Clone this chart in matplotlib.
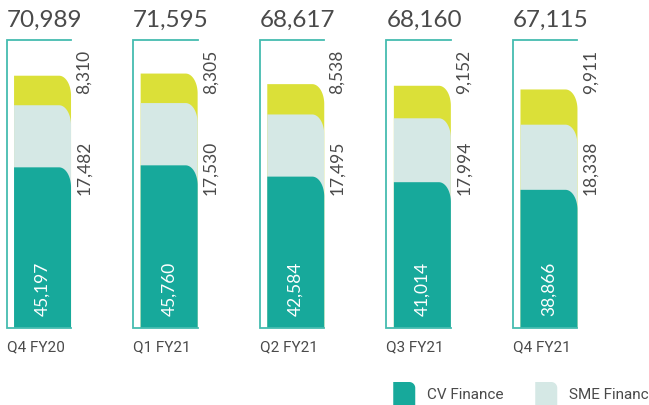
import matplotlib
matplotlib.use('Agg')
import matplotlib.pyplot as plt
import numpy as np

quarters = ['Q4 FY20', 'Q1 FY21', 'Q2 FY21', 'Q3 FY21', 'Q4 FY21']
cv = [45197, 45760, 42584, 41014, 38866]
sme = [17482, 17530, 17495, 17994, 18338]
other = [8310, 8305, 8538, 9152, 9911]
totals = [70989, 71595, 68617, 68160, 67115]
legend_names = ['CV Finance', 'SME Finance']

teal = '#17a99b'
pale = '#d5e8e5'
lime = '#dbe038'
line_c = '#45bcb0'
txt = '#4a4a4a'
num_font = ['Lato', 'DejaVu Sans']
cat_font = ['Roboto', 'DejaVu Sans']

fig = plt.figure(figsize=(6.49, 4.05), dpi=100)
ax = fig.add_axes([0, 0, 1, 1])
ax.set_xlim(-0.336, 4.79)
ax.set_ylim(-21700, 92300)
ax.axis('off')

# data units per pixel
px_x = (4.79 + 0.336) / 649
px_y = (92300 + 21700) / 405


def round_bar(x0, w, bottom, top, color, rx=12, ry=20, z=2):
    rx *= px_x
    ry *= px_y
    t = np.linspace(0, np.pi / 2, 30)
    arc_x = x0 + w - rx + rx * np.sin(t)
    arc_y = top - ry + ry * np.cos(t)
    xs = np.concatenate([[x0, x0], arc_x, [x0 + w, x0]])
    ys = np.concatenate([[bottom, top], arc_y, [bottom, bottom]])
    ax.fill(xs, ys, color=color, lw=0, zorder=z)


w = 0.45
frame_top = 81000
for i, q in enumerate(quarters):
    x0 = i - w / 2
    left = x0 - 7.5 * px_x
    # stacked segments, drawn top first so the rounded corners overlap
    round_bar(x0, w, 0, cv[i] + sme[i] + other[i], lime)
    round_bar(x0, w, 0, cv[i] + sme[i], pale)
    round_bar(x0, w, 0, cv[i], teal)
    ax.plot([x0 + w, left, left, x0 + w], [frame_top, frame_top, 0, 0],
            color=line_c, lw=1.3, zorder=3, solid_joinstyle='miter')

    ax.text(left, 84700, f'{totals[i]:,}', fontsize=17.5, color=txt,
            family=num_font, ha='left', va='baseline')
    rx = x0 + w + 5 * px_x
    ax.text(rx, 78300, f'{other[i]:,}', fontsize=12.5, color=txt,
            family=num_font, rotation=90, ha='left', va='top')
    ax.text(rx, 37400, f'{sme[i]:,}', fontsize=12.5, color=txt,
            family=num_font, rotation=90, ha='left', va='bottom')
    ax.text(i, 3300, f'{cv[i]:,}', fontsize=12.5, color='white',
            family=num_font, rotation=90, ha='center', va='bottom', zorder=4)
    ax.text(left, -5500, q, fontsize=11, color=txt, family=cat_font,
            ha='left', va='center')

# legend along the bottom edge (cut at the right edge as in the source)
sw_w = 22 * px_x
sw_h = 23 * px_y
for k, (name, col) in enumerate(zip(legend_names, [teal, pale])):
    sx = 2.77 + k * 142 * px_x
    round_bar(sx, sw_w, -21700, -21700 + sw_h, col, rx=6, ry=6)
    ax.text(sx + sw_w + 12 * px_x, -21700 + sw_h * 0.45, name, fontsize=11,
            color=txt, family=cat_font, ha='left', va='center')

fig.savefig('out.png', dpi=100)
